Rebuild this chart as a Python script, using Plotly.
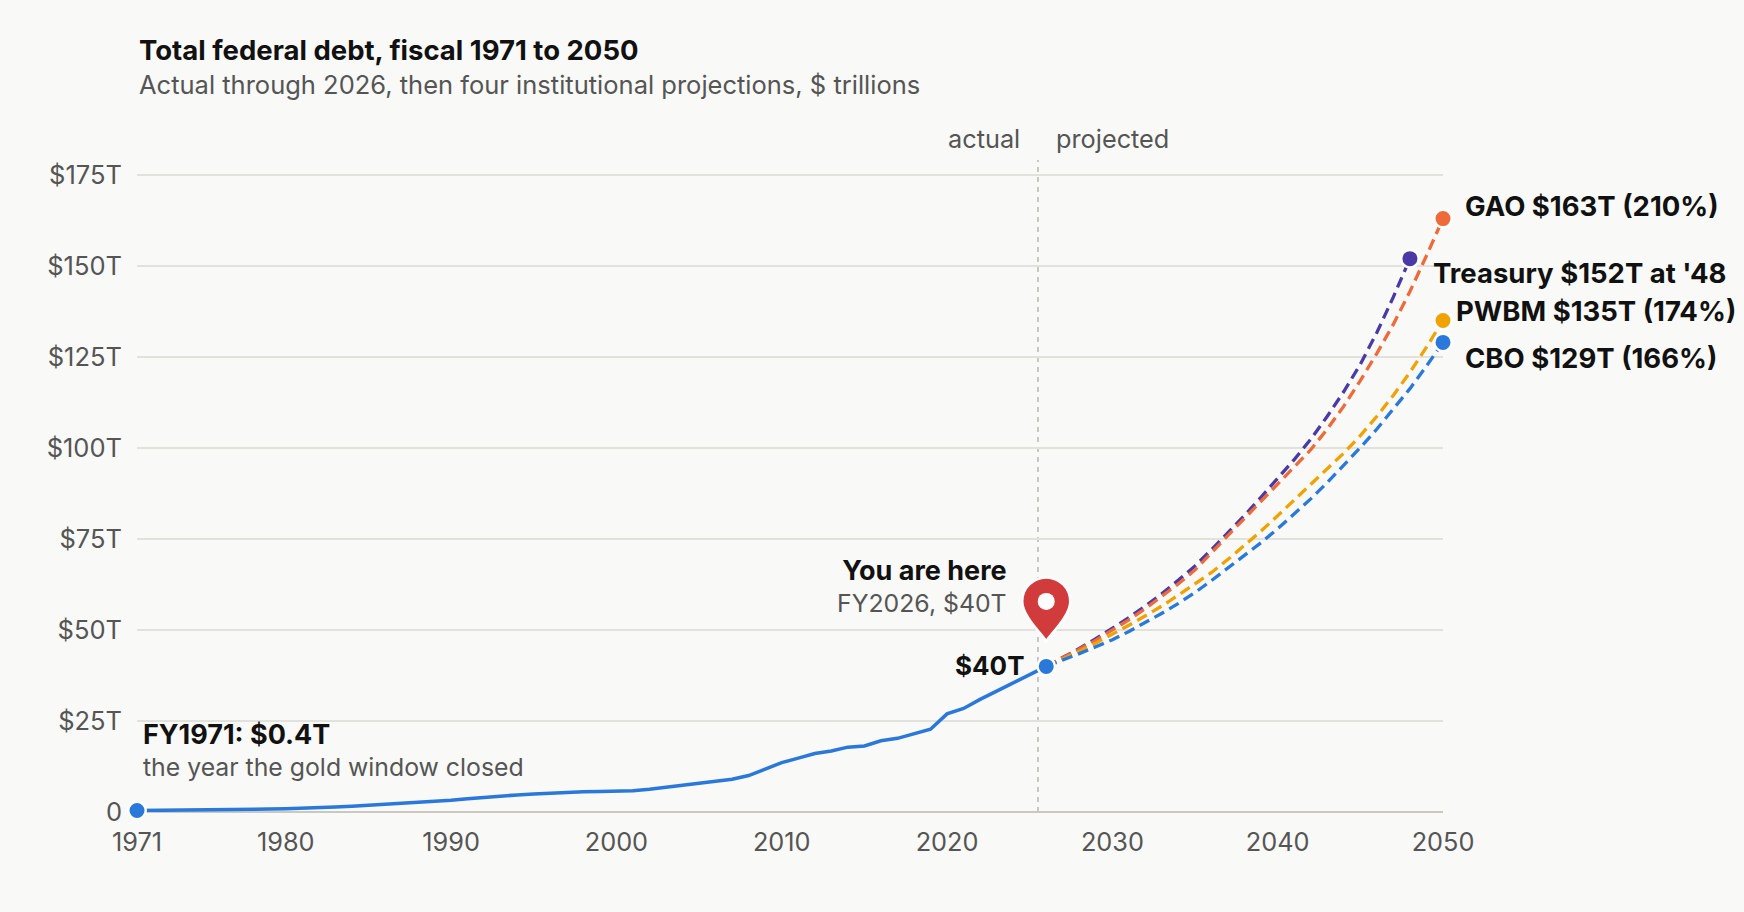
import plotly.graph_objects as go

# ---------------- data ----------------
actual_years = list(range(1971, 2027))
actual_debt = [0.40, 0.43, 0.46, 0.48, 0.54, 0.63, 0.71, 0.78, 0.83, 0.91,
               1.00, 1.14, 1.37, 1.56, 1.82, 2.13, 2.35, 2.60, 2.86, 3.23,
               3.67, 4.06, 4.41, 4.69, 4.97, 5.22, 5.41, 5.53, 5.66, 5.67,
               5.81, 6.23, 6.78, 7.38, 7.93, 8.51, 9.01, 10.02, 11.91, 13.56,
               14.79, 16.07, 16.74, 17.82, 18.15, 19.57, 20.24, 21.52, 22.72, 26.95,
               28.43, 30.93, 33.17, 35.46, 37.64, 40.00]

proj_years = list(range(2026, 2051))
cbo = [40.0, 41.7, 43.5, 45.4, 47.3, 49.6, 52.0, 54.6, 57.3, 60.3,
       63.6, 67.0, 70.5, 74.0, 77.8, 81.8, 86.0, 90.5, 95.2, 100.1,
       105.2, 110.6, 116.3, 122.5, 129.0]
pwbm = [40.0, 42.0, 44.1, 46.4, 48.8, 51.3, 53.9, 56.6, 59.6, 62.7,
        65.8, 69.4, 73.2, 77.2, 81.4, 85.7, 89.9, 94.1, 98.6, 103.4,
        108.7, 114.5, 120.8, 127.7, 135.0]
gao = [40.0, 42.3, 44.7, 47.2, 49.9, 52.8, 55.9, 59.2, 62.7, 66.5,
       71.4, 76.0, 80.7, 85.4, 90.1, 94.8, 99.5, 105.2, 111.5, 118.5,
       126.0, 134.0, 143.0, 152.8, 163.0]
treasury_years = list(range(2026, 2049))
treasury = [40.0, 42.4, 44.9, 47.6, 50.4, 53.4, 56.6, 60.0, 63.7, 67.6,
            72.1, 76.7, 81.5, 86.5, 91.5, 96.8, 102.4, 108.7, 115.5, 123.0,
            131.7, 141.5, 152.0]

x_tickvals = [1971, 1980, 1990, 2000, 2010, 2020, 2030, 2040, 2050]
y_tickvals = [0, 25, 50, 75, 100, 125, 150, 175]
y_ticktext = ["0", "$25T", "$50T", "$75T", "$100T", "$125T", "$150T", "$175T"]

end_labels = {
    "GAO": "GAO $163T (210%)",
    "Treasury": "Treasury $152T at '48",
    "PWBM": "PWBM $135T (174%)",
    "CBO": "CBO $129T (166%)",
}

# ---------------- style ----------------
BLUE = "#2a78d9"
ORANGE = "#ee6a3a"
PURPLE = "#4a3aa6"
GOLD = "#f0a202"
BG = "#f9f9f7"
GRID = "#e2e2dc"
GRAY = "#555555"
INK = "#111111"
FONT = "Inter"
REG = 25.3
BOLD = 27.5

fig = go.Figure()

series = [
    ("Treasury", treasury_years, treasury, PURPLE),
    ("GAO", proj_years, gao, ORANGE),
    ("PWBM", proj_years, pwbm, GOLD),
    ("CBO", proj_years, cbo, BLUE),
]
for name, xs, ys, col in series:
    fig.add_trace(go.Scatter(
        x=xs, y=ys, mode="lines", name=name,
        line=dict(color=col, width=3.3, dash="11px,6px"),
        hoverinfo="skip", showlegend=False))
for name, xs, ys, col in series:
    fig.add_trace(go.Scatter(
        x=[xs[-1]], y=[ys[-1]], mode="markers", cliponaxis=False,
        marker=dict(color=col, size=17.5, line=dict(color="white", width=2.5)),
        hoverinfo="skip", showlegend=False))

fig.add_trace(go.Scatter(
    x=actual_years, y=actual_debt, mode="lines",
    line=dict(color=BLUE, width=3.5), hoverinfo="skip", showlegend=False))
fig.add_trace(go.Scatter(
    x=[actual_years[0], actual_years[-1]], y=[actual_debt[0], actual_debt[-1]],
    mode="markers", cliponaxis=False,
    marker=dict(color=BLUE, size=17.5, line=dict(color="white", width=2.5)),
    hoverinfo="skip", showlegend=False))

# divider between actual and projected
fig.add_shape(type="line", xref="x", yref="paper", x0=2025.5, x1=2025.5, y0=0, y1=1,
              line=dict(color="#b8b8b2", width=1.5, dash="5px,5px"), layer="below")

# map pin
pin_path = ("M 0,25 C -3,31 -24,50 -24,65 C -24,78.3 -13.3,89 0,89 "
            "C 13.3,89 24,78.3 24,65 C 24,50 3,31 0,25 Z")
fig.add_shape(type="path", xref="x", yref="y", xsizemode="pixel", ysizemode="pixel",
              xanchor=actual_years[-1], yanchor=actual_debt[-1], path=pin_path,
              fillcolor="#d13b3b", line=dict(color="white", width=2.5), layer="above")
fig.add_shape(type="circle", xref="x", yref="y", xsizemode="pixel", ysizemode="pixel",
              xanchor=actual_years[-1], yanchor=actual_debt[-1],
              x0=-8.5, x1=8.5, y0=56.5, y1=73.5,
              fillcolor="white", line=dict(width=0), layer="above")


def two_line(bold_text, reg_text, bold_size, reg_size):
    return ("<span style='font-size:%.1fpx;color:%s'><b>%s</b></span><br>"
            "<span style='font-size:%.1fpx;color:%s'>%s</span>"
            % (bold_size, INK, bold_text, reg_size, GRAY, reg_text))


ann = []
ann.append(dict(xref="paper", yref="paper", x=0, y=1.168, xanchor="left", yanchor="middle",
                text="<b>Total federal debt, fiscal 1971 to 2050</b>", showarrow=False,
                font=dict(family=FONT, size=27.5, color=INK)))
ann.append(dict(xref="paper", yref="paper", x=0, y=1.1155, xanchor="left", yanchor="middle",
                text="Actual through 2026, then four institutional projections, $ trillions",
                showarrow=False, font=dict(family=FONT, size=25.5, color=GRAY)))
ann.append(dict(xref="x", yref="paper", x=2025.5, y=1.0327, xanchor="right", yanchor="middle",
                xshift=-16, text="actual", showarrow=False,
                font=dict(family=FONT, size=REG, color=GRAY)))
ann.append(dict(xref="x", yref="paper", x=2025.5, y=1.0327, xanchor="left", yanchor="middle",
                xshift=16, text="projected", showarrow=False,
                font=dict(family=FONT, size=REG, color=GRAY)))
# "You are here" block (two lines, one text)
ann.append(dict(xref="x", yref="y", x=2026, y=40, xanchor="right", yanchor="middle",
                align="right", xshift=-37, yshift=80,
                text=two_line("You are here", "FY2026, $40T", 27, 24.8),
                showarrow=False, font=dict(family=FONT, size=24.4, color=INK)))
ann.append(dict(xref="x", yref="y", x=2026, y=40, xanchor="right", yanchor="middle",
                xshift=-19, yshift=1, text="<b>$40T</b>", showarrow=False,
                font=dict(family=FONT, size=26, color=INK)))
# FY1971 block
ann.append(dict(xref="x", yref="y", x=1971, y=0, xanchor="left", yanchor="middle",
                align="left", xshift=4, yshift=62,
                text=two_line("FY1971: $0.4T", "the year the gold window closed", 27, 24.8),
                showarrow=False, font=dict(family=FONT, size=24.4, color=INK)))

label_pos = {
    "GAO": (2050, gao[-1], 20, 13),
    "Treasury": (2048, treasury[-1], 21, -14),
    "PWBM": (2050, pwbm[-1], 11, 10),
    "CBO": (2050, cbo[-1], 20, -16),
}
for k, (lx, ly, dx, dy) in label_pos.items():
    ann.append(dict(xref="x", yref="y", x=lx, y=ly, xanchor="left", yanchor="middle",
                    xshift=dx, yshift=dy, text="<b>" + end_labels[k] + "</b>",
                    showarrow=False, font=dict(family=FONT, size=BOLD, color=INK)))

fig.update_layout(
    width=1744, height=912,
    paper_bgcolor=BG, plot_bgcolor=BG,
    margin=dict(l=137, r=301, t=160, b=100),
    font=dict(family=FONT, color=GRAY),
    annotations=ann,
    showlegend=False,
)
fig.update_xaxes(range=[1971, 2050], tickvals=x_tickvals, showgrid=False,
                 zeroline=False, showline=False, ticks="",
                 tickfont=dict(family=FONT, size=REG, color=GRAY), ticklabelstandoff=13)
fig.update_yaxes(range=[0, 179.1], tickvals=y_tickvals, ticktext=y_ticktext,
                 showgrid=True, gridcolor=GRID, gridwidth=1.5,
                 zeroline=True, zerolinecolor="#c9c9c2", zerolinewidth=2,
                 showline=False, ticks="",
                 tickfont=dict(family=FONT, size=25.5, color=GRAY), ticklabelstandoff=14)

fig.write_html("out.html", config={"displayModeBar": False},
               post_script="document.body.style.margin='0';document.body.style.background='#f9f9f7';")
